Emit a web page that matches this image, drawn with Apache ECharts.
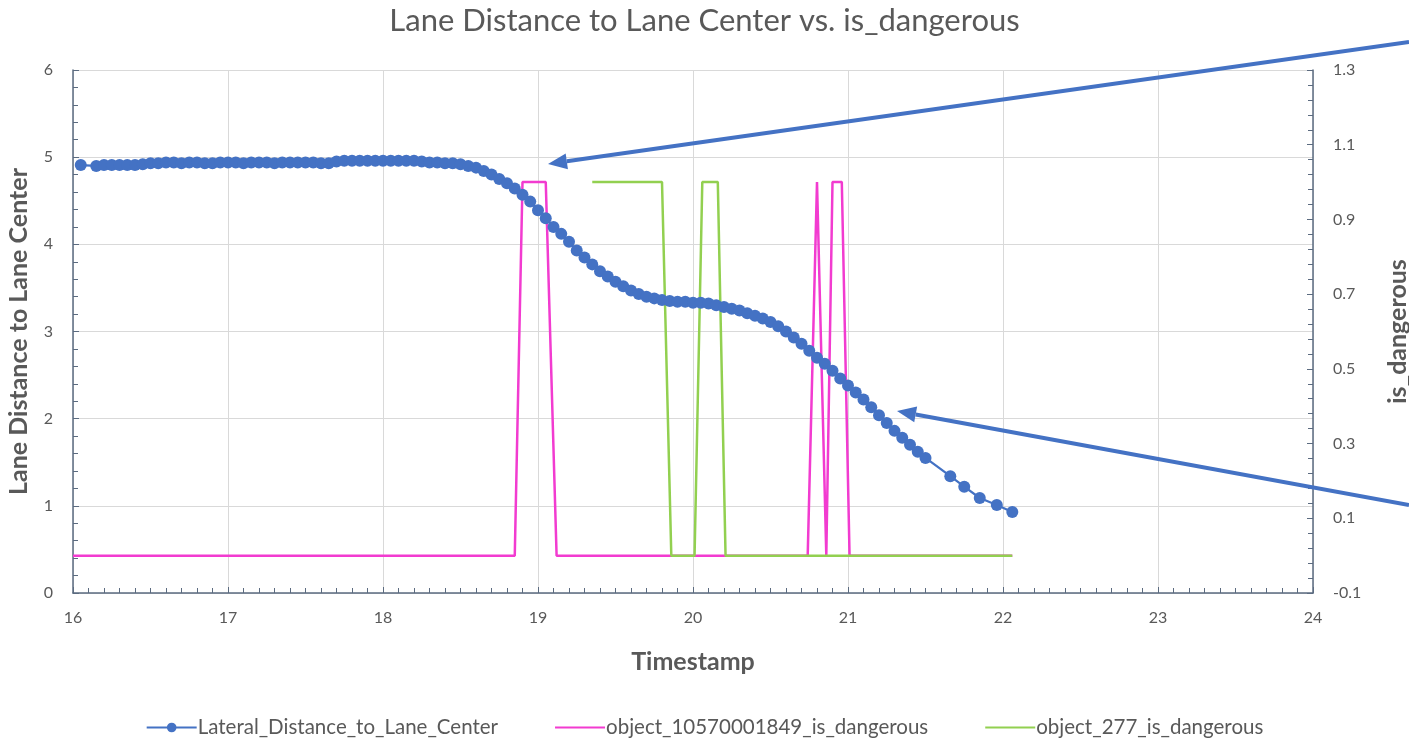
<!DOCTYPE html>
<html>
<head>
<meta charset="utf-8">
<script src="https://cdn.jsdelivr.net/npm/echarts@6/dist/echarts.min.js"></script>
<style>
  html, body { margin: 0; padding: 0; background: #fff; }
  #chart { width: 1409px; height: 744px; }
</style>
</head>
<body>
<div id="chart"></div>
<script>
// lateral distance samples (seconds, metres)
const timestamps = [
  16.05, 16.15, 16.20, 16.25, 16.30, 16.35, 16.40, 16.45,
  16.50, 16.55, 16.60, 16.65, 16.70, 16.75, 16.80, 16.85, 16.90, 16.95,
  17.00, 17.05, 17.10, 17.15, 17.20, 17.25, 17.30, 17.35, 17.40, 17.45,
  17.50, 17.55, 17.60, 17.65, 17.70, 17.75, 17.80, 17.85, 17.90, 17.95,
  18.00, 18.05, 18.10, 18.15, 18.20, 18.25, 18.30, 18.35, 18.40, 18.45,
  18.50, 18.55, 18.60, 18.65, 18.70, 18.75, 18.80, 18.85, 18.90, 18.95,
  19.00, 19.05, 19.10, 19.15, 19.20, 19.25, 19.30, 19.35, 19.40, 19.45,
  19.50, 19.55, 19.60, 19.65, 19.70, 19.75, 19.80, 19.85, 19.90, 19.95,
  20.00, 20.05, 20.10, 20.15, 20.20, 20.25, 20.30, 20.35, 20.40, 20.45,
  20.50, 20.55, 20.60, 20.65, 20.70, 20.75, 20.80, 20.85, 20.90, 20.95,
  21.00, 21.05, 21.10, 21.15, 21.20, 21.25, 21.30, 21.35, 21.40, 21.45,
  21.50, 21.66, 21.75, 21.85, 21.96, 22.06
];
const laneDistance = [
  4.91, 4.90, 4.91, 4.91, 4.91, 4.91, 4.91, 4.92,
  4.93, 4.93, 4.94, 4.94, 4.93, 4.94, 4.94, 4.93, 4.93, 4.94,
  4.94, 4.94, 4.93, 4.94, 4.94, 4.94, 4.93, 4.94, 4.94, 4.94,
  4.94, 4.94, 4.93, 4.93, 4.95, 4.96, 4.96, 4.96, 4.96, 4.96,
  4.96, 4.96, 4.96, 4.96, 4.96, 4.95, 4.94, 4.94, 4.93, 4.93,
  4.92, 4.90, 4.88, 4.84, 4.80, 4.75, 4.70, 4.64, 4.57, 4.49,
  4.39, 4.30, 4.20, 4.12, 4.03, 3.93, 3.85, 3.77, 3.69, 3.63,
  3.57, 3.52, 3.47, 3.43, 3.40, 3.38, 3.36, 3.35, 3.34, 3.34,
  3.33, 3.33, 3.32, 3.30, 3.28, 3.26, 3.24, 3.21, 3.18, 3.15,
  3.11, 3.06, 3.00, 2.93, 2.86, 2.78, 2.70, 2.63, 2.55, 2.46,
  2.38, 2.30, 2.22, 2.13, 2.04, 1.95, 1.86, 1.78, 1.70, 1.62,
  1.55, 1.34, 1.22, 1.09, 1.01, 0.93
];

// danger flags
const object1Time = [16.0, 18.85, 18.90, 19.05, 19.12, 20.74, 20.80, 20.86, 20.90, 20.96, 21.01, 22.06];
const object1Flag = [0, 0, 1, 1, 0, 0, 1, 0, 1, 1, 0, 0];
const object2Time = [19.35, 19.80, 19.86, 20.01, 20.06, 20.16, 20.21, 22.06];
const object2Flag = [1, 1, 0, 0, 1, 1, 0, 0];

const seriesNames = [
  "Lateral_Distance_to_Lane_Center",
  "object_10570001849_is_dangerous",
  "object_277_is_dangerous",
];

const FONT = "Lato";
const TEXT = "#595959";
const AXIS = "#5b6b80";
const ARROW = "#4472c4";

function zip(xs, ys) {
  return xs.map((x, i) => [x, ys[i]]);
}

// arrow annotation: shaft + filled head, tip at (x2, y2)
function arrow(x1, y1, x2, y2) {
  const ang = Math.atan2(y2 - y1, x2 - x1);
  const len = 19, half = 8;
  const bx = x2 - len * Math.cos(ang), by = y2 - len * Math.sin(ang);
  const nx = -Math.sin(ang) * half, ny = Math.cos(ang) * half;
  return [
    {
      type: "line",
      z: 100,
      shape: { x1: x1, y1: y1, x2: bx, y2: by },
      style: { stroke: ARROW, lineWidth: 4 },
    },
    {
      type: "polygon",
      z: 100,
      shape: { points: [[x2, y2], [bx + nx, by + ny], [bx - nx, by - ny]] },
      style: { fill: ARROW },
    },
  ];
}

const nameStyle = { fontFamily: FONT, fontSize: 25, fontWeight: "bold", color: TEXT };
const labelStyle = { fontFamily: FONT, fontSize: 16, color: TEXT };

const chart = echarts.init(document.getElementById("chart"));
chart.setOption({
  animation: false,
  title: {
    text: "Lane Distance to Lane Center vs. is_dangerous",
    left: "center",
    top: 0,
    textStyle: { fontFamily: FONT, fontSize: 31, fontWeight: "normal", color: TEXT },
  },
  legend: {
    bottom: 1,
    left: "center",
    itemGap: 56,
    itemWidth: 50,
    itemHeight: 12,
    textStyle: { fontFamily: FONT, fontSize: 20.5, color: TEXT, padding: [0, 0, 0, -4] },
    data: [
      { name: seriesNames[0] },
      { name: seriesNames[1], itemStyle: { opacity: 0 } },
      { name: seriesNames[2], itemStyle: { opacity: 0 } },
    ],
  },
  grid: { left: 73, right: 96, top: 70, bottom: 151, outerBoundsMode: "none" },
  xAxis: {
    type: "value",
    min: 16,
    max: 24,
    interval: 1,
    name: "Timestamp",
    nameLocation: "middle",
    nameGap: 56,
    nameTextStyle: nameStyle,
    axisLine: { lineStyle: { color: AXIS, width: 1.5 } },
    axisTick: { inside: true, length: 6, lineStyle: { color: AXIS } },
    minorTick: { show: true, splitNumber: 10, length: 5, lineStyle: { color: AXIS } },
    axisLabel: { ...labelStyle, margin: 17 },
    splitLine: { lineStyle: { color: "#d9d9d9" } },
  },
  yAxis: [
    {
      type: "value",
      min: 0,
      max: 6,
      interval: 1,
      name: "Lane Distance to Lane Center",
      nameLocation: "middle",
      nameGap: 42,
      nameTextStyle: nameStyle,
      axisLine: { show: true, lineStyle: { color: AXIS, width: 1.5 } },
      axisTick: { show: true, inside: true, length: 6, lineStyle: { color: AXIS } },
      minorTick: { show: true, splitNumber: 5, length: 5, lineStyle: { color: AXIS } },
      axisLabel: { ...labelStyle, margin: 20 },
      splitLine: { lineStyle: { color: "#d9d9d9" } },
    },
    {
      type: "value",
      min: -0.1,
      max: 1.3,
      interval: 0.2,
      position: "right",
      name: "is_dangerous",
      nameLocation: "middle",
      nameGap: 72,
      nameTextStyle: nameStyle,
      axisLine: { show: true, lineStyle: { color: AXIS, width: 1.5 } },
      axisTick: { show: true, inside: true, length: 6, lineStyle: { color: AXIS } },
      minorTick: { show: true, splitNumber: 5, length: 5, lineStyle: { color: AXIS } },
      axisLabel: { ...labelStyle, margin: 20, formatter: (v) => v.toFixed(1) },
      splitLine: { show: false },
    },
  ],
  series: [
    {
      name: seriesNames[0],
      type: "line",
      yAxisIndex: 0,
      data: zip(timestamps, laneDistance),
      symbol: "circle",
      symbolSize: 12,
      itemStyle: { color: "#4472c4" },
      lineStyle: { color: "#4472c4", width: 2.25 },
    },
    {
      name: seriesNames[1],
      type: "line",
      yAxisIndex: 1,
      data: zip(object1Time, object1Flag),
      symbol: "none",
      itemStyle: { color: "#f23bd0" },
      lineStyle: { color: "#f23bd0", width: 2.5 },
    },
    {
      name: seriesNames[2],
      type: "line",
      yAxisIndex: 1,
      data: zip(object2Time, object2Flag),
      symbol: "none",
      itemStyle: { color: "#92d050" },
      lineStyle: { color: "#92d050", width: 2.5 },
    },
  ],
  graphic: [...arrow(1409, 42, 548, 164), ...arrow(1409, 505, 897, 411)],
});
</script>
</body>
</html>
